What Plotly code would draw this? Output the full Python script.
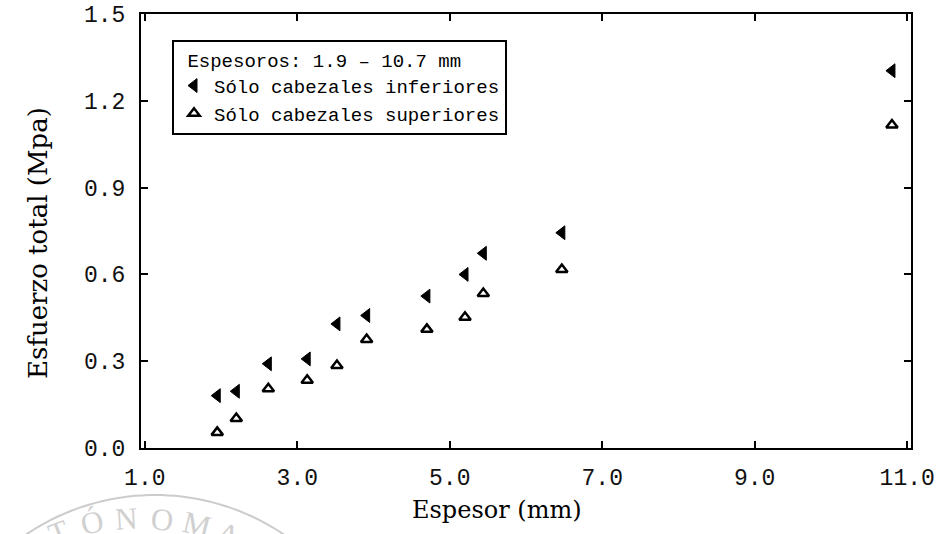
import math
import plotly.graph_objects as go

# ---- data ----
espesor = [1.95, 2.20, 2.62, 3.13, 3.52, 3.91, 4.70, 5.20, 5.44, 6.47, 10.80]
inferiores = [0.181, 0.196, 0.291, 0.308, 0.429, 0.458, 0.525, 0.600, 0.673, 0.744, 1.304]
superiores = [0.054, 0.102, 0.205, 0.234, 0.285, 0.375, 0.410, 0.452, 0.534, 0.617, 1.116]

x_ticks = [1, 3, 5, 7, 9, 11]
x_ticklabels = ["1.0", "3.0", "5.0", "7.0", "9.0", "11.0"]
y_ticks = [0.0, 0.3, 0.6, 0.9, 1.2, 1.5]
y_ticklabels = ["0.0", "0.3", "0.6", "0.9", "1.2", "1.5"]

legend_title = "Espesoros: 1.9 – 10.7 mm"
name_inf = "Sólo cabezales inferiores"
name_sup = "Sólo cabezales superiores"
x_title = "Espesor (mm)"
y_title = "Esfuerzo total (Mpa)"
watermark_letters = ["T", "Ó", "N", "O", "M", "A"]

W, H = 947, 534
L, R, T, B = 141, 36, 14, 86
PW, PH = W - L - R, H - T - B


def px(xp):
    return (xp - L) / PW


def py(yp):
    return (H - B - yp) / PH


fig = go.Figure()
fig.add_trace(go.Scatter(
    x=espesor, y=inferiores, mode="markers", name=name_inf,
    marker=dict(symbol="triangle-left", size=12, color="black",
                line=dict(color="black", width=1)),
))
fig.add_trace(go.Scatter(
    x=espesor, y=superiores, mode="markers", name=name_sup,
    marker=dict(symbol="triangle-up-open", size=10, color="black",
                line=dict(color="black", width=2.5)),
))

mono = "Liberation Mono"
serif = "DejaVu Serif"

axis_common = dict(
    showline=True, linecolor="black", linewidth=2, mirror="allticks",
    ticks="inside", ticklen=7, tickwidth=1.5, tickcolor="black",
    showgrid=False, zeroline=False, automargin=False,
    tickfont=dict(family=mono, size=23, color="#111111"),
)

fig.update_xaxes(range=[0.95, 11.05], tickvals=x_ticks, ticktext=x_ticklabels,
                 ticklabelstandoff=7, **axis_common)
fig.update_yaxes(range=[0, 1.5], tickvals=y_ticks, ticktext=y_ticklabels,
                 ticklabelstandoff=9, **axis_common)

annotations = [
    dict(text=x_title, x=px(497), y=py(510), xref="paper", yref="paper",
         showarrow=False, font=dict(family=serif, size=24, color="black"),
         xanchor="center", yanchor="middle"),
    dict(text=y_title, x=px(38), y=py(243), xref="paper", yref="paper",
         showarrow=False, textangle=-90,
         font=dict(family=serif, size=26, color="black"),
         xanchor="center", yanchor="middle"),
]

# faint scanned watermark (seal arc + lettering) at the bottom-left
lcx, lcy, r_txt = 140, 755, 237
wm_x = [58, 92, 126, 162, 197, 228]
for ch, xp in zip(watermark_letters, wm_x):
    dx = xp - lcx
    ang = math.degrees(math.asin(dx / r_txt))
    yp = lcy - math.sqrt(r_txt ** 2 - dx ** 2)
    annotations.append(dict(
        text=ch, x=px(xp), y=py(yp), xref="paper", yref="paper",
        showarrow=False, textangle=ang,
        font=dict(family="Liberation Serif", size=31, color="#d0d0d0"),
        xanchor="center", yanchor="middle"))

acx, acy, r_arc = 155, 725, 230
pts = []
for k in range(0, 61):
    a = math.radians(-50 + k * 100 / 60)
    xp = acx + r_arc * math.sin(a)
    yp = acy - r_arc * math.cos(a)
    pts.append((px(xp), py(yp)))
path = "M " + " L ".join(f"{a:.4f},{b:.4f}" for a, b in pts)

fig.update_layout(
    width=W, height=H,
    margin=dict(l=L, r=R, t=T, b=B),
    paper_bgcolor="white", plot_bgcolor="white",
    showlegend=True,
    legend=dict(
        x=px(172), y=py(40), xanchor="left", yanchor="top",
        bgcolor="white", bordercolor="black", borderwidth=2,
        font=dict(family=mono, size=19, color="black"),
        title=dict(text="\u00a0" + legend_title,
                   font=dict(family=mono, size=19, color="black")),
        tracegroupgap=0, itemwidth=30,
    ),
    annotations=annotations,
    shapes=[dict(type="path", path=path, xref="paper", yref="paper",
                 line=dict(color="#cccccc", width=2), layer="below")],
)

fig.write_html(
    "out.html",
    config={"displayModeBar": False},
    post_script="document.body.style.margin='0';"
                "document.body.style.overflow='hidden';",
)
